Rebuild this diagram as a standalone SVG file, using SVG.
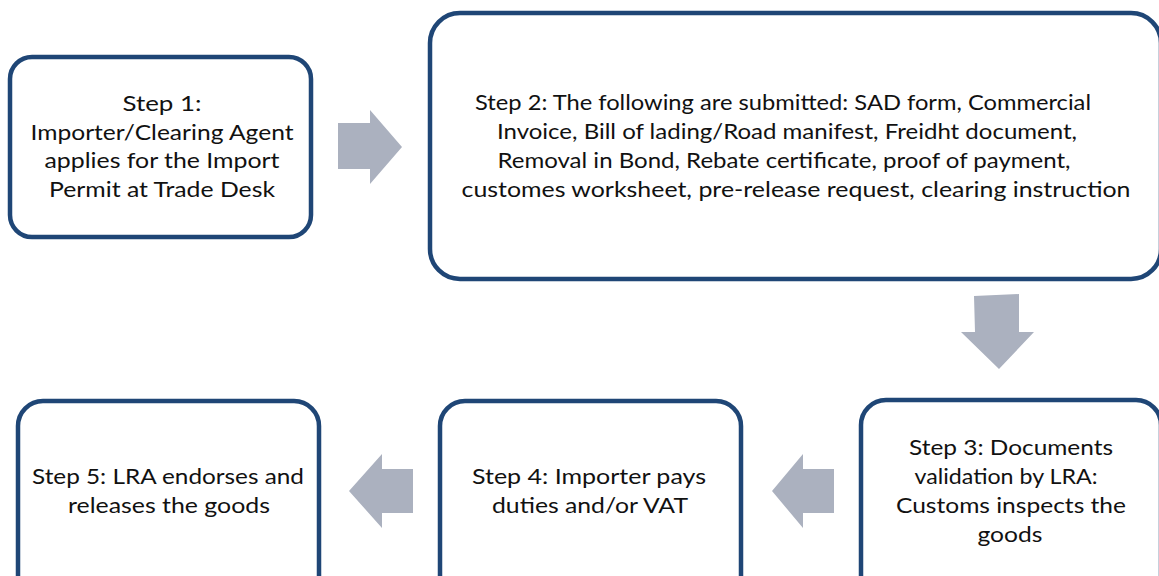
<svg xmlns="http://www.w3.org/2000/svg" width="1159" height="576" viewBox="0 0 1159 576">
<style>
.box{fill:#ffffff;stroke:#1F4676;stroke-width:4.5}
.arr{fill:#ABB1BF;stroke:none}
text{font-family:Lato,"Liberation Sans",sans-serif;font-size:22px;font-weight:400;fill:#111111;text-anchor:middle}
</style>
<rect width="1159" height="576" fill="#ffffff"/>
<g id="connectors">
<polygon class="arr" points="338,123 370,123 370,110 402,147 370,184 370,169 338,169"/>
<polygon class="arr" points="974,296 1019,294 1019,332 1034,332 999,369 961,332 975,332"/>
<polygon class="arr" points="834,469 803,469 803,454 772,491 803,528 803,513 834,513"/>
<polygon class="arr" points="413,469 382,469 382,454 349,491 382,528 382,513 413,513"/>
</g>
<g id="step1">
<rect class="box" x="10" y="57" width="301" height="180" rx="22"/>
<text x="162" y="111" textLength="79" lengthAdjust="spacingAndGlyphs">Step 1:</text>
<text x="162" y="140" textLength="263" lengthAdjust="spacingAndGlyphs">Importer/Clearing Agent</text>
<text x="162" y="168" textLength="235" lengthAdjust="spacingAndGlyphs">applies for the Import</text>
<text x="162" y="197" textLength="226" lengthAdjust="spacingAndGlyphs">Permit at Trade Desk</text>
</g>
<g id="step2">
<rect class="box" x="430" y="13" width="731" height="266" rx="30"/>
<text x="783" y="110" textLength="616" lengthAdjust="spacingAndGlyphs">Step 2: The following are submitted: SAD form, Commercial</text>
<text x="787" y="139" textLength="580" lengthAdjust="spacingAndGlyphs">Invoice, Bill of lading/Road manifest, Freidht document,</text>
<text x="784" y="168" textLength="573" lengthAdjust="spacingAndGlyphs">Removal in Bond, Rebate certificate, proof of payment,</text>
<text x="796" y="197" textLength="669" lengthAdjust="spacingAndGlyphs">customes worksheet, pre-release request, clearing instruction</text>
</g>
<g id="step3">
<rect class="box" x="861" y="400" width="300" height="220" rx="25"/>
<text x="1011" y="455" textLength="204" lengthAdjust="spacingAndGlyphs">Step 3: Documents</text>
<text x="1006" y="484" textLength="183" lengthAdjust="spacingAndGlyphs">validation by LRA:</text>
<text x="1011" y="513" textLength="230" lengthAdjust="spacingAndGlyphs">Customs inspects the</text>
<text x="1010" y="542" textLength="65" lengthAdjust="spacingAndGlyphs">goods</text>
</g>
<g id="step4">
<rect class="box" x="440" y="401" width="301" height="220" rx="25"/>
<text x="589" y="484" textLength="234" lengthAdjust="spacingAndGlyphs">Step 4: Importer pays</text>
<text x="590" y="513" textLength="196" lengthAdjust="spacingAndGlyphs">duties and/or VAT</text>
</g>
<g id="step5">
<rect class="box" x="18" y="401" width="301" height="220" rx="25"/>
<text x="168" y="484" textLength="272" lengthAdjust="spacingAndGlyphs">Step 5: LRA endorses and</text>
<text x="169" y="513" textLength="202" lengthAdjust="spacingAndGlyphs">releases the goods</text>
</g>
</svg>
